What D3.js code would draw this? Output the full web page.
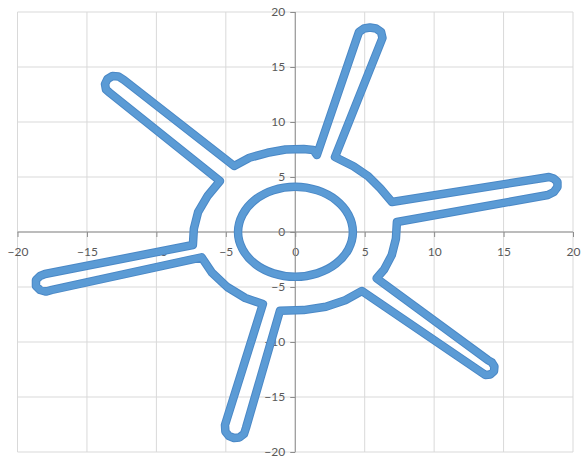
<!DOCTYPE html>
<html lang="en">
  <head>
    <meta charset="UTF-8" />
    <title>Sun outline scatter</title>
    <script src="https://d3js.org/d3.v7.min.js"></script>
    <style>
      body {
        margin: 0;
        background: #fff;
      }
      text {
        font-family: Lato, "Open Sans", sans-serif;
        font-size: 12px;
        fill: #595959;
      }
    </style>
  </head>
  <body>
    <svg width="582" height="459"></svg>

    <script>
      const xTicks = [-20, -15, -10, -5, 0, 5, 10, 15, 20];
      const yTicks = [-20, -15, -10, -5, 0, 5, 10, 15, 20];

      // inner ring
      const innerRing = [
        [4.15, 0], [3.83, 1.57], [2.93, 2.9], [1.59, 3.79], [0, 4.12], [-1.58, 3.8], [-2.92, 2.9], [-3.8, 1.57],
        [-4.12, 0], [-3.8, -1.56], [-2.91, -2.88], [-1.57, -3.76], [0, -4.07], [1.58, -3.76], [2.93, -2.88], [3.83, -1.56]
      ];

      // outer outline, clockwise, one piece per arc / arm
      const arcTop = [[-4.4, 6.0], [-3.3, 6.75], [-2.0, 7.2], [-0.7, 7.5], [0.6, 7.55], [1.3, 7.45], [1.56, 7.0]];
      const armTop = [[4.44, 17.64], [4.59, 18.18], [4.95, 18.5], [5.38, 18.59], [5.82, 18.5], [6.18, 18.18], [6.28, 17.64], [2.86, 6.82]];
      const arcUpperRight = [[4.19, 5.98], [5.25, 5.07], [6.12, 3.98], [6.96, 2.73]];
      const armRight = [[17.83, 4.91], [18.27, 5.0], [18.62, 4.86], [18.88, 4.55], [18.88, 4.09], [18.62, 3.64], [18.19, 3.36], [7.32, 0.91]];
      const arcLowerRight = [[7.25, -0.6], [6.95, -2.1], [6.4, -3.4], [5.86, -4.21]];
      const armLowerRight = [[13.87, -11.64], [14.16, -11.86], [14.34, -12.23], [14.31, -12.64], [14.05, -12.95], [13.69, -13.0], [13.37, -12.73], [4.8, -5.36]];
      const arcBottom = [[3.6, -6.2], [2.2, -6.8], [0.6, -7.1], [-1.1, -7.15]];
      const armBottom = [[-3.55, -17.82], [-3.69, -18.36], [-4.02, -18.68], [-4.41, -18.73], [-4.77, -18.55], [-5.03, -18.14], [-5.06, -17.55], [-2.33, -6.55]];
      const arcLowerLeft = [[-3.6, -6.0], [-4.9, -5.0], [-6.0, -3.7], [-6.74, -2.3]];
      const armLeft = [[-17.52, -5.27], [-17.95, -5.41], [-18.38, -5.27], [-18.67, -4.91], [-18.67, -4.36], [-18.38, -4.0], [-18.02, -3.82], [-7.37, -1.18]];
      const arcLeft = [[-7.3, 0.3], [-7.0, 1.8], [-6.3, 3.3], [-5.42, 4.64]];
      const armUpperLeft = [[-13.34, 12.64], [-13.63, 12.95], [-13.7, 13.45], [-13.52, 13.91], [-13.16, 14.18], [-12.72, 14.14], [-12.33, 13.82], [-4.4, 6.0]];

      const outerRing = [].concat(
        arcTop, armTop, arcUpperRight, armRight, arcLowerRight, armLowerRight,
        arcBottom, armBottom, arcLowerLeft, armLeft, arcLeft, armUpperLeft
      );

      const svg = d3.select("svg"),
        margin = {top: 12, right: 9, bottom: 7, left: 17.5},
        width = +svg.attr("width") - margin.left - margin.right,
        height = +svg.attr("height") - margin.top - margin.bottom,
        g = svg.append("g").attr("transform", `translate(${margin.left},${margin.top})`);

      const x = d3.scaleLinear().domain([-20, 20]).range([0, width]);
      const y = d3.scaleLinear().domain([-20, 20]).range([height, 0]);

      // gridlines
      g.append("g")
        .selectAll("line")
        .data(xTicks)
        .join("line")
        .attr("x1", (d) => x(d))
        .attr("x2", (d) => x(d))
        .attr("y1", 0)
        .attr("y2", height)
        .attr("stroke", "#d9d9d9");
      g.append("g")
        .selectAll("line")
        .data(yTicks)
        .join("line")
        .attr("y1", (d) => y(d))
        .attr("y2", (d) => y(d))
        .attr("x1", 0)
        .attr("x2", width)
        .attr("stroke", "#d9d9d9");

      // axes through the origin
      const xAxis = g.append("g")
        .attr("transform", `translate(0,${y(0)})`)
        .call(d3.axisBottom(x).tickValues(xTicks).tickSize(5).tickPadding(10).tickFormat(d3.format("d")));
      const yAxis = g.append("g")
        .attr("transform", `translate(${x(0)},0)`)
        .call(d3.axisLeft(y).tickValues(yTicks).tickSize(5).tickPadding(5).tickFormat(d3.format("d")));
      [xAxis, yAxis].forEach((a) => {
        a.selectAll("path, line").attr("stroke", "#8c8c8c");
        a.select(".domain").attr("d", null);
        a.selectAll("text").attr("fill", "#595959").style("font-size", "12px").style("font-family", "Lato, sans-serif");
      });
      g.append("line")
        .attr("x1", 0).attr("x2", width)
        .attr("y1", y(0)).attr("y2", y(0))
        .attr("stroke", "#8c8c8c");
      g.append("line")
        .attr("x1", x(0)).attr("x2", x(0))
        .attr("y1", 0).attr("y2", height)
        .attr("stroke", "#8c8c8c");

      const line = d3.line().x((d) => x(d[0])).y((d) => y(d[1]));
      const smooth = d3.line().x((d) => x(d[0])).y((d) => y(d[1])).curve(d3.curveCatmullRomClosed);

      [[smooth, innerRing], [line, outerRing]].forEach(([gen, pts]) => {
        const d = gen === line ? gen(pts) + "Z" : gen(pts);
        g.append("path").attr("d", d).attr("fill", "none")
          .attr("stroke", "#4a88c6").attr("stroke-width", 8.5)
          .attr("stroke-linejoin", "round").attr("stroke-linecap", "round");
        g.append("path").attr("d", d).attr("fill", "none")
          .attr("stroke", "#5b9bd5").attr("stroke-width", 6.5)
          .attr("stroke-linejoin", "round").attr("stroke-linecap", "round");
      });
    </script>
  </body>
</html>
